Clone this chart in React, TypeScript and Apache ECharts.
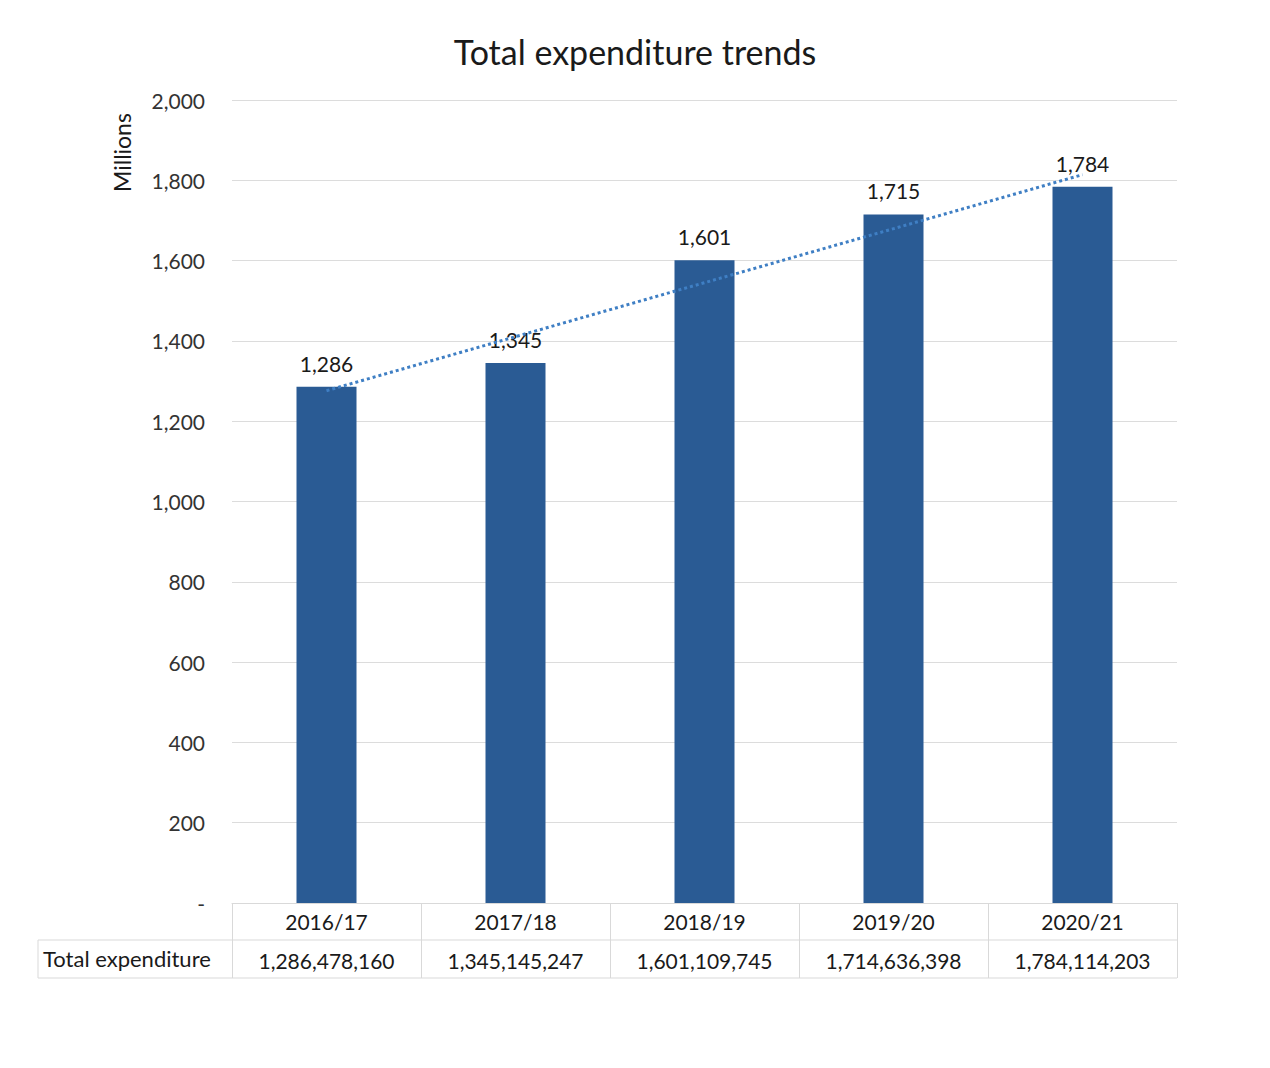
import React, { useEffect, useRef } from "react";
import * as echarts from "echarts";

const categories = ["2016/17", "2017/18", "2018/19", "2019/20", "2020/21"];
const valuesMillions = [1286, 1345, 1601, 1715, 1784];
const fullValues = ["1,286,478,160", "1,345,145,247", "1,601,109,745", "1,714,636,398", "1,784,114,203"];
// linear trendline endpoints (first and last category)
const trendValues = [1276, null, null, null, 1814];
const yTicks = [0, 200, 400, 600, 800, 1000, 1200, 1400, 1600, 1800, 2000];

const FONT = "Lato, 'Open Sans', sans-serif";

export default function App() {
  const ref = useRef<HTMLDivElement>(null);
  useEffect(() => {
    if (!ref.current) return;
    const chart = echarts.init(ref.current, undefined, { renderer: "svg" });
    const fmt = (v: number) => (v === 0 ? "-" : v.toLocaleString("en-US"));
    const W = 1270;
    const H = 1068;
    const gridLeft = 232;
    const gridRight = 1177;
    const gridTopY = 100;
    const gridBottomY = 903;
    const rowTop = 940;
    const rowBottom = 978;
    const lineColor = "#d9d9d9";
    chart.setOption({
      animation: false,
      backgroundColor: "#ffffff",
      textStyle: { fontFamily: FONT },
      title: {
        text: "Total expenditure trends",
        left: "center",
        top: 29,
        textStyle: { fontFamily: FONT, fontSize: 34, fontWeight: "normal", color: "#1a1a1a" },
      },
      grid: { left: gridLeft, right: W - gridRight, top: gridTopY, bottom: H - gridBottomY },
      xAxis: {
        type: "category",
        data: categories,
        axisLine: { show: true, lineStyle: { color: lineColor, width: 1 } },
        axisTick: { show: true, length: rowBottom - gridBottomY, lineStyle: { color: lineColor } },
        axisLabel: {
          margin: 0,
          interval: 0,
          formatter: (v: string, i: number) => `{a|${v}}\n{b|${fullValues[i]}}`,
          rich: {
            a: { fontFamily: FONT, fontSize: 21, lineHeight: 37, color: "#1a1a1a", align: "center" },
            b: { fontFamily: FONT, fontSize: 21, lineHeight: 40, color: "#1a1a1a", align: "center" },
          },
        },
      },
      yAxis: {
        type: "value",
        min: 0,
        max: 2000,
        interval: 200,
        axisLine: { show: false },
        axisTick: { show: false },
        axisLabel: {
          margin: 27,
          fontFamily: FONT,
          fontSize: 21,
          color: "#333333",
          formatter: (v: number) => (yTicks.includes(v) ? fmt(v) : ""),
        },
        splitLine: { show: true, lineStyle: { color: "#dcdcdc", width: 1 } },
      },
      series: [
        {
          type: "bar",
          data: valuesMillions,
          barWidth: 60,
          itemStyle: { color: "#2a5b94" },
          label: {
            show: true,
            position: "top",
            distance: 13,
            fontFamily: FONT,
            fontSize: 21,
            color: "#1a1a1a",
            formatter: (p: any) => fmt(p.value),
          },
          z: 2,
        },
        {
          type: "line",
          data: trendValues,
          connectNulls: true,
          symbol: "none",
          lineStyle: { type: "dotted", width: 3, color: "#3f7fc4" },
          z: 3,
        },
      ],
      graphic: [
        {
          type: "text",
          x: 110,
          y: 192,
          rotation: Math.PI / 2,
          style: { text: "Millions", font: `23px ${FONT}`, fill: "#1a1a1a" },
        },
        {
          type: "line",
          shape: { x1: 38, y1: rowTop, x2: gridRight, y2: rowTop },
          style: { stroke: lineColor, lineWidth: 1 },
        },
        {
          type: "line",
          shape: { x1: 38, y1: rowBottom, x2: gridRight, y2: rowBottom },
          style: { stroke: lineColor, lineWidth: 1 },
        },
        {
          type: "line",
          shape: { x1: 38, y1: rowTop, x2: 38, y2: rowBottom },
          style: { stroke: lineColor, lineWidth: 1 },
        },
        {
          type: "text",
          x: 43,
          y: 958,
          style: {
            text: "Total expenditure",
            font: `22px ${FONT}`,
            fill: "#1a1a1a",
            verticalAlign: "middle",
          },
        },
      ],
    });
    return () => chart.dispose();
  }, []);
  return (
    <div
      ref={ref}
      style={{ position: "absolute", left: 0, top: 0, width: 1270, height: 1068 }}
    />
  );
}
